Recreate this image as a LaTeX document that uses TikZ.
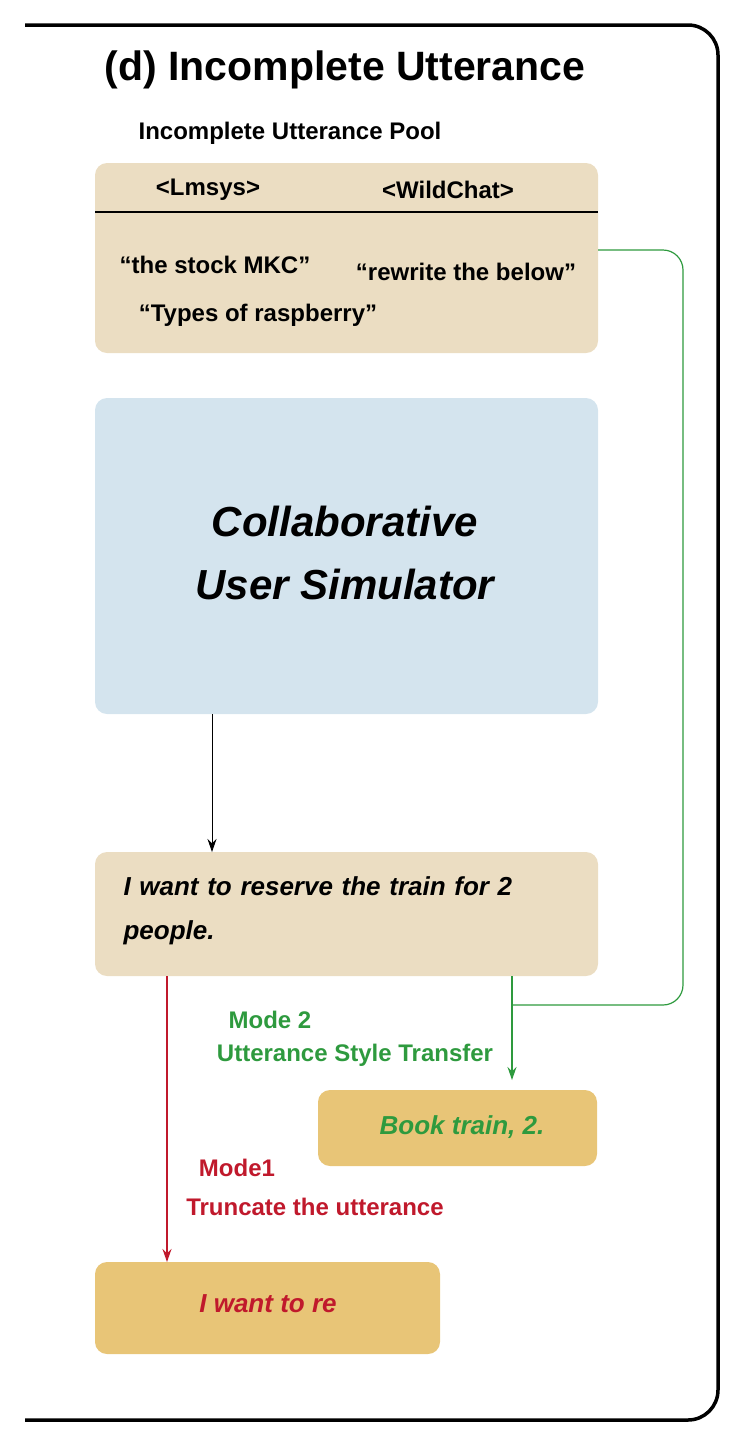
\documentclass[tikz,border=0pt]{standalone}
\usepackage{fontspec}
\setmainfont{Liberation Sans}
\usetikzlibrary{arrows.meta}
\definecolor{tan}{HTML}{EBDDC2}
\definecolor{blu}{HTML}{D4E4EE}
\definecolor{gold}{HTML}{E8C577}
\definecolor{grn}{HTML}{2E9A3E}
\definecolor{rd}{HTML}{C0192C}
\begin{document}
\begin{tikzpicture}[x=1pt,y=-1pt,
  box/.style={rounded corners=12pt,draw=none},
  t/.style={font=\bfseries\fontsize{24}{28}\selectfont},
  it/.style={font=\bfseries\itshape\fontsize{26}{44}\selectfont},
  arr/.style={-{Stealth[length=13pt,width=9pt]},line width=1.2pt}]
\useasboundingbox (0,0) rectangle (744,1449);
\draw[line width=3.5pt,rounded corners=30pt] (25,25) -- (718,25) -- (718,1420) -- (25,1420);
\node[font=\bfseries\fontsize{41}{46}\selectfont] (title) at (345,70) {(d) Incomplete Utterance};
\node[t] (pooltitle) at (290,133) {Incomplete Utterance Pool};
\fill[tan,box] (95,163) rectangle (598,353);
\coordinate (pool) at (598,250);
\draw[line width=1.5pt] (95,212) -- (598,212);
\node[t] (lm) at (208,190) {<Lmsys>};
\node[t] (wc) at (448,190) {<WildChat>};
\node[t] (q1) at (215,265) {“the stock MKC”};
\node[t] (q2) at (466,272) {“rewrite the below”};
\node[t] (q3) at (258,315) {“Types of raspberry”};
\fill[blu,box] (95,398) rectangle (598,714);
\node[font=\bfseries\itshape\fontsize{42}{63}\selectfont,align=center] (sim) at (345,553) {Collaborative\\User Simulator};
\fill[tan,box] (95,852) rectangle (598,976);
\node[it,align=left,anchor=north west,text width=460pt] (utt) at (120,873) {\hyphenpenalty=10000 I want to reserve the train for 2\\people.};
\coordinate (simb) at (212,714);
\coordinate (uttt) at (212,852);
\draw[arr,line width=0.9pt] (simb) -- (uttt);
\fill[gold,box] (318,1090) rectangle (597,1166);
\node[it,text=grn] (book) at (462,1127) {Book train, 2.};
\fill[gold,box] (95,1262) rectangle (440,1354);
\node[it,text=rd] (re) at (268,1304) {I want to re};
\coordinate (r1) at (167,976); \coordinate (r2) at (167,1262);
\draw[arr,rd] (r1) -- (r2);
\coordinate (g1) at (512,976); \coordinate (g2) at (512,1080);
\draw[arr,grn] (g1) -- (g2);
\draw[grn,line width=1.2pt,rounded corners=20pt] (pool) -- (683,250) -- (683,1005) -- (512,1005);
\node[t,text=grn] (m2) at (270,1020) {Mode 2};
\node[t,text=grn] (m2b) at (355,1055) {Utterance Style Transfer};
\node[t,text=rd] (m1) at (237,1168) {Mode1};
\node[t,text=rd] (m1b) at (315,1207) {Truncate the utterance};
\end{tikzpicture}
\end{document}
